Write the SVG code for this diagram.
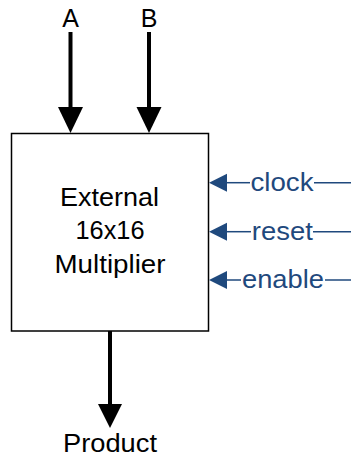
<svg xmlns="http://www.w3.org/2000/svg" width="351" height="458" viewBox="0 0 351 458">
  <style>
    .lbl { font-family: "Liberation Sans", Arial, sans-serif; font-size: 25px; fill: #000; text-anchor: middle; }
    .sig { font-family: "Liberation Sans", Arial, sans-serif; font-size: 26px; fill: #1f497d; text-anchor: middle; }
    .bus { stroke: #000; stroke-width: 4; fill: none; }
    .bushead { fill: #000; }
    .ctl { stroke: #1f497d; stroke-width: 1.5; fill: none; }
    .ctlhead { fill: #1f497d; }
    .box { fill: #fff; stroke: #000; stroke-width: 1.5; }
  </style>
  <rect width="351" height="458" fill="#fff"/>

  <g id="multiplier">
    <rect class="box" x="11.5" y="133.5" width="197" height="197.5"/>
    <text class="lbl" x="109.5" y="206" font-size="26" textLength="99" lengthAdjust="spacingAndGlyphs">External</text>
    <text class="lbl" x="110" y="239.3" font-size="26" textLength="69" lengthAdjust="spacingAndGlyphs">16x16</text>
    <text class="lbl" x="110" y="272.7" font-size="26" textLength="111" lengthAdjust="spacingAndGlyphs">Multiplier</text>
  </g>

  <g id="input-a">
    <text class="lbl" x="70.7" y="26.7">A</text>
  </g>
  <g id="input-b">
    <text class="lbl" x="149" y="26.7">B</text>
  </g>
  <g id="output-product">
    <text class="lbl" x="110" y="452.3" textLength="94" lengthAdjust="spacingAndGlyphs">Product</text>
  </g>
  <g id="sig-clock">
    <text class="sig" x="282" y="190.5" textLength="63" lengthAdjust="spacingAndGlyphs">clock</text>
  </g>
  <g id="sig-reset">
    <text class="sig" x="282.3" y="240" textLength="61" lengthAdjust="spacingAndGlyphs">reset</text>
  </g>
  <g id="sig-enable">
    <text class="sig" x="283" y="288.3" textLength="82" lengthAdjust="spacingAndGlyphs">enable</text>
  </g>

  <g id="connectors">
    <!-- data inputs -->
    <line class="bus" x1="70.5" y1="32" x2="70.5" y2="109"/>
    <polygon class="bushead" points="58,107 83,107 70.5,133"/>
    <line class="bus" x1="149" y1="32" x2="149" y2="109"/>
    <polygon class="bushead" points="136.5,107 161.5,107 149,133"/>
    <!-- product output -->
    <line class="bus" x1="110" y1="331" x2="110" y2="406"/>
    <polygon class="bushead" points="98,404 122,404 110,428"/>
    <!-- control inputs -->
    <line class="ctl" x1="226" y1="182.7" x2="250" y2="182.7"/>
    <line class="ctl" x1="314" y1="182.7" x2="351" y2="182.7"/>
    <polygon class="ctlhead" points="209,182.7 227,173.7 227,191.7"/>
    <line class="ctl" x1="226" y1="231.7" x2="251" y2="231.7"/>
    <line class="ctl" x1="313" y1="231.7" x2="351" y2="231.7"/>
    <polygon class="ctlhead" points="209,231.7 227,222.7 227,240.7"/>
    <line class="ctl" x1="226" y1="280" x2="241" y2="280"/>
    <line class="ctl" x1="325" y1="280" x2="351" y2="280"/>
    <polygon class="ctlhead" points="209,280 227,271 227,289"/>
  </g>
</svg>
